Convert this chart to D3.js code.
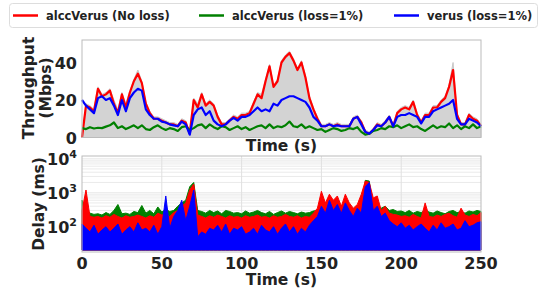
<!DOCTYPE html>
<html>
<head>
<meta charset="utf-8">
<script src="https://cdn.jsdelivr.net/npm/d3@7"></script>
<style>
  body { margin: 0; background: #fff; }
  svg text { font-family: "DejaVu Sans", sans-serif; font-weight: bold; fill: #222; }
</style>
</head>
<body>
<svg id="chart" width="544" height="288"></svg>
<script>
// time axis, one sample every 2.5 s
var times = d3.range(0, 251, 2.5);

// throughput (Mbps)
var capacity = [1,18,17,15,27,23,24,26,20,15,24,18,25,31,36,30,19,14,11,11,10,9,8,8,7,10,9,3,21,18,24,18,20,18,12,8,8,10,12,11,13,13,14,19,24,23,31,39,28,31,41,44,46,42,37,41,33,22,16,11,7,7,8,7,8,7,7,7,11,12,9,4,3,5,8,7,9,12,7,14,16,17,16,20,13,9,13,13,17,17,20,22,28,40,13,8,8,13,11,10,7];
var noLoss = [0,17,16,14,26,22,23,25,18,13,23,16,24,30,34,29,18,13,10,10,9,8,7,7,6,9,8,2,20,16,23,17,19,17,11,7,7,9,11,10,12,12,13,18,23,21,30,38,27,30,40,43,45,41,36,40,32,21,15,10,6,6,7,6,7,6,6,6,10,11,8,3,2,4,7,6,8,11,6,13,15,16,15,19,12,8,12,12,16,16,19,21,27,36,12,7,7,12,10,9,6];
var lossAlcc = [5,4.5,5.5,4.8,5.2,5,5.8,6.5,8,5,6,4.5,5.5,6.5,5,6.5,4.5,4,5.5,6.5,5,4,5,4.5,3.5,5.5,6,4,5,6.5,7,5,7,5.5,4.5,6,5.5,4,5,6,4.5,5.5,4,5,6,6.5,5,7,5,6,5.5,6.5,8.5,6,5.5,7,5,6,5,4,4.5,3,4,5,4.5,3.5,4,5,4.5,5.5,3,1.5,2,3.5,4,5,4.5,6,5.5,6.5,5,6,7,5.5,6,4.5,3.5,5,6.5,5,6,5.5,7.5,5,6.5,4.5,6,5,7,5,6];
var lossVerus = [20,17,15,13,21,22,20,21,17,12,20,14,21,24,26,25,15,12,10,10,8.5,8,7,6.5,6,8.5,7,1.5,12,15,16,12,14,9,7,6,7,9,10.5,9,11,11,12,14,16,14,15,14,18,17,20,21,22,22,21,20,19,16,11,9,6,6,7,6,6.5,6,6,6,10,11,7,3,2,4,6.5,6,8,11,6,11,12,12,13,12,11,7.5,11,11,14,15,16,17,18,20,10,7,7,10,9,8,6];

// delay (ms)
var delayNoLoss = [300,1200,200,190,200,180,210,190,230,200,180,210,190,200,220,200,180,210,190,250,220,230,200,260,300,400,500,1200,1800,220,200,180,210,190,220,200,180,210,190,200,180,210,190,200,220,190,200,180,210,190,200,230,200,190,210,180,200,190,250,350,1100,500,900,600,800,400,900,500,350,450,900,2200,2000,700,800,300,400,250,230,220,200,210,190,230,200,180,500,200,190,220,200,230,250,210,190,350,220,200,230,210,260];
var delayLossAlcc = [600,300,250,230,240,220,260,230,300,450,240,250,230,280,260,420,250,300,240,380,270,320,280,300,400,500,600,1500,2000,300,280,250,300,260,290,240,300,280,250,260,240,290,250,270,300,260,240,280,230,260,290,250,280,260,240,270,250,260,290,300,300,280,300,290,300,280,300,290,300,280,300,2300,2200,300,300,350,400,300,320,280,290,260,300,250,280,260,300,270,250,290,260,240,280,300,260,280,250,290,270,300,280];
var delayLossVerus = [120,90,70,110,60,80,100,70,90,120,60,80,100,70,130,80,90,70,110,60,100,800,90,200,300,600,150,400,1200,50,70,60,90,80,110,70,120,60,90,80,100,60,70,90,60,110,80,70,100,60,90,120,70,100,60,90,70,110,150,200,400,250,600,300,450,250,500,300,200,350,250,1500,2000,300,400,200,250,150,120,100,130,90,110,80,100,120,90,70,110,80,130,90,100,120,80,90,150,100,110,130,140];

var seriesNames = ['alccVerus (No loss)', 'alccVerus (loss=1%)', 'verus (loss=1%)'];
var seriesColors = ['#ff0000', '#008000', '#0000ff'];

var svg = d3.select('#chart');
var left = 82, right = 481;

var x = d3.scaleLinear().domain([0, 250]).range([left, right]);

// ---------- legend ----------
var legend = svg.append('g');
legend.append('rect')
  .attr('x', 9.5).attr('y', 3.5).attr('width', 528).attr('height', 24)
  .attr('rx', 3).attr('fill', '#fff').attr('stroke', '#ddd');
var legendX = [13, 199, 394];
seriesNames.forEach(function(name, i) {
  legend.append('line')
    .attr('x1', legendX[i]).attr('x2', legendX[i] + 25)
    .attr('y1', 15.5).attr('y2', 15.5)
    .attr('stroke', seriesColors[i]).attr('stroke-width', 2.5);
  legend.append('text')
    .attr('x', legendX[i] + 33).attr('y', 20)
    .style('font-size', '11.5px')
    .text(name);
});

// ---------- throughput panel ----------
var top1 = 40, bottom1 = 137.5;
var y1 = d3.scaleLinear().domain([0, 52]).range([bottom1, top1]);

var g1 = svg.append('g');
g1.append('rect').attr('x', left).attr('y', top1)
  .attr('width', right - left).attr('height', bottom1 - top1).attr('fill', '#fff');

g1.append('path')
  .datum(capacity)
  .attr('fill', '#d3d3d3')
  .attr('stroke', '#c8c8c8')
  .attr('stroke-width', 1)
  .attr('d', d3.area()
    .x(function(d, i) { return x(times[i]); })
    .y0(y1(0))
    .y1(function(d) { return y1(d); }));

var line1 = d3.line()
  .x(function(d, i) { return x(times[i]); })
  .y(function(d) { return y1(d); });

[noLoss, lossAlcc, lossVerus].forEach(function(s, i) {
  g1.append('path')
    .datum(s)
    .attr('fill', 'none')
    .attr('stroke', seriesColors[i])
    .attr('stroke-width', 2.2)
    .attr('stroke-linejoin', 'round')
    .attr('d', line1);
});

g1.append('rect').attr('x', left).attr('y', top1)
  .attr('width', right - left).attr('height', bottom1 - top1)
  .attr('fill', 'none').attr('stroke', '#bbb').attr('stroke-width', 1);

g1.selectAll('.ytick')
  .data([0, 20, 40]).enter()
  .append('text')
  .attr('x', 77).attr('y', function(d) { return y1(d) + 6; })
  .attr('text-anchor', 'end')
  .style('font-size', '16px')
  .text(function(d) { return d; });

g1.append('text')
  .attr('transform', 'translate(34,88) rotate(-90)')
  .attr('text-anchor', 'middle')
  .style('font-size', '15.5px')
  .text('Throughput');
g1.append('text')
  .attr('transform', 'translate(51,88) rotate(-90)')
  .attr('text-anchor', 'middle')
  .style('font-size', '15.5px')
  .text('(Mbps)');

g1.append('text')
  .attr('x', (left + right) / 2).attr('y', 151)
  .attr('text-anchor', 'middle')
  .style('font-size', '15.5px')
  .text('Time (s)');

// ---------- delay panel ----------
var top2 = 156, bottom2 = 252;
var y2 = d3.scaleLog().domain([18, 12000]).range([bottom2, top2]);

var g2 = svg.append('g');

// grid
var minorTicks = [];
[10, 100, 1000, 10000].forEach(function(base) {
  for (var k = 1; k < 10; k++) {
    var v = base * k;
    if (v > 18 && v < 12000) minorTicks.push(v);
  }
});
g2.selectAll('.ygrid')
  .data(minorTicks).enter()
  .append('line')
  .attr('x1', left).attr('x2', right)
  .attr('y1', function(d) { return y2(d); }).attr('y2', function(d) { return y2(d); })
  .attr('stroke', '#e4e4e4').attr('stroke-width', 0.8);
g2.selectAll('.xgrid')
  .data([50, 100, 150, 200]).enter()
  .append('line')
  .attr('y1', top2).attr('y2', bottom2)
  .attr('x1', function(d) { return x(d); }).attr('x2', function(d) { return x(d); })
  .attr('stroke', '#e0e0e0').attr('stroke-width', 1);

var area2 = d3.area()
  .x(function(d, i) { return x(times[i]); })
  .y0(bottom2 - 2)
  .y1(function(d) { return y2(d); });

[delayLossAlcc, delayNoLoss, delayLossVerus].forEach(function(s, i) {
  var col = [seriesColors[1], seriesColors[0], seriesColors[2]][i];
  g2.append('path')
    .datum(s)
    .attr('fill', col)
    .attr('stroke', col)
    .attr('stroke-width', 1)
    .attr('d', area2);
});

g2.append('rect').attr('x', left).attr('y', top2)
  .attr('width', right - left).attr('height', bottom2 - top2)
  .attr('fill', 'none').attr('stroke', '#bbb').attr('stroke-width', 1);

// y tick labels 10^n
var yt = g2.selectAll('.ytick')
  .data([2, 3, 4]).enter()
  .append('text')
  .attr('x', 77).attr('y', function(d) { return y2(Math.pow(10, d)) + 6; })
  .attr('text-anchor', 'end')
  .style('font-size', '16px');
yt.append('tspan').text('10');
yt.append('tspan').attr('dy', -7).style('font-size', '11px').text(function(d) { return d; });

g2.append('text')
  .attr('transform', 'translate(44,204) rotate(-90)')
  .attr('text-anchor', 'middle')
  .style('font-size', '15.5px')
  .text('Delay (ms)');

g2.selectAll('.xtick')
  .data([0, 50, 100, 150, 200, 250]).enter()
  .append('text')
  .attr('x', function(d) { return x(d); }).attr('y', 269)
  .attr('text-anchor', 'middle')
  .style('font-size', '16px')
  .text(function(d) { return d; });

g2.append('text')
  .attr('x', (left + right) / 2).attr('y', 285)
  .attr('text-anchor', 'middle')
  .style('font-size', '15.5px')
  .text('Time (s)');
</script>
</body>
</html>
